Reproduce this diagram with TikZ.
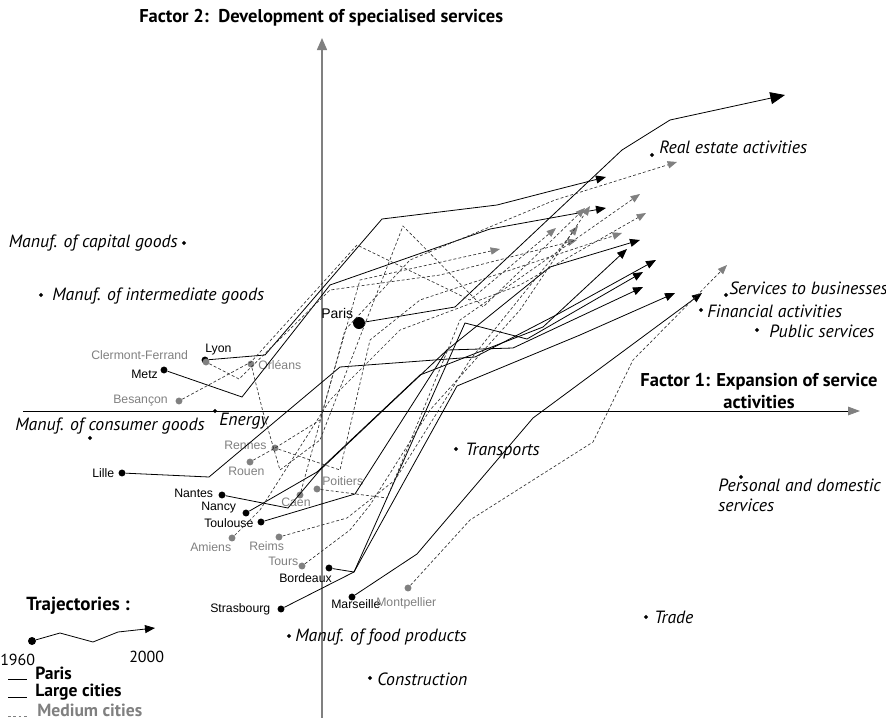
\documentclass[tikz,border=0pt]{standalone}
\usepackage{fontspec}
\setmainfont{PT Sans}
\newfontfamily\ciudadfont{Liberation Sans}
\usetikzlibrary{arrows.meta, shapes.geometric}

\begin{document}
\begin{tikzpicture}[x=0.75pt, y=-0.75pt,
    ciudad/.style={circle, fill=black, inner sep=0pt, minimum size=5.2pt},
    media/.style={circle, fill=gray, inner sep=0pt, minimum size=5.2pt},
    sector/.style={diamond, fill=black, inner sep=0pt, minimum size=3.4pt},
    etiq/.style={font=\ciudadfont\fontsize{9.2}{10}\selectfont, inner sep=0pt, anchor=west},
    etiqm/.style={etiq, text=gray},
    secttext/.style={font=\itshape\fontsize{13.3}{15}\selectfont, inner sep=0pt, anchor=west},
    titulo/.style={font=\bfseries\fontsize{13.9}{15.8}\selectfont, inner sep=0pt},
    leyenda/.style={font=\bfseries\fontsize{13.2}{14}\selectfont, inner sep=0pt, anchor=west},
    grande/.style={draw=black, line width=0.6pt, -{Triangle[length=7.5pt,width=6pt]}},
    mediana/.style={draw=black!80, line width=0.5pt, dash pattern=on 2.2pt off 1.6pt,
      -{Triangle[length=7pt,width=5.5pt,color=gray]}}]
  \useasboundingbox (0,0) rectangle (886,718);

  % Ejes
  \coordinate (y0) at (322,718);
  \coordinate (y1) at (322,38);
  \coordinate (x0) at (23,411);
  \coordinate (x1) at (860,411);
  \draw[gray, line width=1.1pt, -{Triangle[length=9pt,width=7.5pt]}] (y0) -- (y1);
  \draw[line width=0.6pt, -{Triangle[length=9pt,width=6.5pt,color=gray]}] (x0) -- (x1);
  \node[titulo, anchor=west] (f2) at (139,18) {Factor 2:\ \ Development of specialised services};
  \node[titulo, align=center] (f1) at (759,391) {Factor 1: Expansion of service\\activities};

  % Sectores
  \node[sector] (capital) at (184,243) {};
  \node[secttext, anchor=east] (tcapital) at (178,243) {Manuf. of capital goods};
  \node[sector] (interm) at (41,295) {};
  \node[secttext] (tinterm) at (52,296) {Manuf. of intermediate goods};
  \node[sector] (consumo) at (90,438) {};
  \node[secttext] (tconsumo) at (15,426) {Manuf. of consumer goods};
  \node[sector] (energia) at (215,411) {};
  \node[secttext] (tenergia) at (219,421) {Energy};
  \node[sector] (inmob) at (652,155) {};
  \node[secttext] (tinmob) at (659,147) {Real estate activities};
  \node[sector] (servemp) at (726,295) {};
  \node[secttext] (tservemp) at (729,288) {Services to businesses};
  \node[sector] (finan) at (701,310) {};
  \node[secttext] (tfinan) at (707,311) {Financial activities};
  \node[sector] (publico) at (757,330) {};
  \node[secttext] (tpublico) at (769,331) {Public services};
  \node[sector] (personal) at (741,477) {};
  \node[secttext, align=left, anchor=north west] (tpersonal) at (718,479) {Personal and domestic\\services};
  \node[sector] (transp) at (456,449) {};
  \node[secttext] (ttransp) at (465,451) {Transports};
  \node[sector] (comercio) at (646,617) {};
  \node[secttext] (tcomercio) at (654,617) {Trade};
  \node[sector] (alim) at (289,636) {};
  \node[secttext] (talim) at (295,637) {Manuf. of food products};
  \node[sector] (constr) at (370,678) {};
  \node[secttext] (tconstr) at (377,679) {Construction};

  % Ciudades grandes
  \node[ciudad, minimum size=9pt] (paris) at (359,323) {};
  \node[ciudad] (lyon) at (205,360) {};
  \node[ciudad] (metz) at (164,370) {};
  \node[ciudad] (lille) at (122,473) {};
  \node[ciudad] (nantes) at (222,495) {};
  \node[ciudad] (nancy) at (246,513) {};
  \node[ciudad] (toulouse) at (261,522) {};
  \node[ciudad] (bordeaux) at (329,568) {};
  \node[ciudad] (strasbourg) at (281,609) {};
  \node[ciudad] (marseille) at (352,597) {};

  % Ciudades medias
  \node[media] (clermont) at (206,362) {};
  \node[media] (besancon) at (179,401) {};
  \node[media] (orleans) at (251,364) {};
  \node[media] (rennes) at (275,448) {};
  \node[media] (rouen) at (250,462) {};
  \node[media] (caen) at (300,495) {};
  \node[media] (poitiers) at (317,489) {};
  \node[media] (amiens) at (232,538) {};
  \node[media] (reims) at (279,537) {};
  \node[media] (tours) at (302,566) {};
  \node[media] (montpellier) at (408,588) {};

  % Nombres
  \node[etiq, font=\ciudadfont\fontsize{10.5}{12}\selectfont] (tparis) at (321,313) {Paris};
  \node[etiq] (tlyon) at (205,350) {Lyon};
  \node[etiqm] (tclermont) at (91,355) {Clermont-Ferrand};
  \node[etiq] (tmetz) at (131,374) {Metz};
  \node[etiqm] (torleans) at (258,365) {Orléans};
  \node[etiqm] (tbesancon) at (113,401) {Besançon};
  \node[etiqm] (trennes) at (224,445) {Rennes};
  \node[etiqm] (trouen) at (228,471) {Rouen};
  \node[etiq] (tlille) at (92,473) {Lille};
  \node[etiq] (tnantes) at (174,493) {Nantes};
  \node[etiq] (tnancy) at (201,508) {Nancy};
  \node[etiq] (ttoulouse) at (204,523) {Toulouse};
  \node[etiqm] (tcaen) at (281,502) {Caen};
  \node[etiqm] (tpoitiers) at (322,481) {Poitiers};
  \node[etiqm] (tamiens) at (190,547) {Amiens};
  \node[etiqm] (treims) at (249,546) {Reims};
  \node[etiqm] (ttours) at (268,561) {Tours};
  \node[etiq] (tbordeaux) at (279,578) {Bordeaux};
  \node[etiq] (tstrasbourg) at (210,609) {Strasbourg};
  \node[etiq] (tmarseille) at (331,604) {Marseille};
  \node[etiqm] (tmontpellier) at (376,603) {Montpellier};

  % Trayectorias de las ciudades grandes
  \draw[grande, -{Triangle[length=11pt,width=9pt]}] (paris) -- (455,307) -- (622,150) -- (670,120) -- (785,95);
  \draw[grande] (lyon) -- (265,355) -- (382,219) -- (497,205) -- (555,190) -- (606,177);
  \draw[grande] (metz) -- (242,397) -- (330,285) -- (490,229) -- (606,208);
  \draw[grande] (lille) -- (209,477) -- (340,367) -- (475,357) -- (560,313) -- (656,260);
  \draw[grande] (nantes) -- (288,508) -- (320,470) -- (447,350) -- (550,267) -- (640,240);
  \draw[grande] (nancy) -- (317,472) -- (420,375) -- (543,327) -- (627,249);
  \draw[grande] (toulouse) -- (355,494) -- (447,350) -- (513,348) -- (643,287);
  \draw[grande] (bordeaux) -- (354,572) -- (465,323) -- (527,339) -- (643,272);
  \draw[grande] (strasbourg) -- (354,572) -- (457,386) -- (580,335) -- (675,293);
  \draw[grande] (marseille) -- (417,554) -- (533,418) -- (702,293);

  % Trayectorias de las ciudades medias
  \draw[mediana] (clermont) -- (239,379) -- (330,290) -- (440,275) -- (577,240);
  \draw[mediana] (besancon) -- (251,362) -- (357,245) -- (470,300) -- (556,228);
  \draw[mediana] (orleans) -- (263,412) -- (280,470) -- (320,440) -- (403,226) -- (483,307) -- (585,208);
  \draw[mediana] (rennes) -- (340,470) -- (370,340) -- (420,300) -- (622,233);
  \draw[mediana] (rouen) -- (275,448) -- (320,420) -- (360,280) -- (500,249);
  \draw[mediana] (caen) -- (345,330) -- (410,260) -- (555,200) -- (677,162);
  \draw[mediana] (poitiers) -- (387,498) -- (460,320) -- (640,194);
  \draw[mediana] (amiens) -- (260,510) -- (330,400) -- (400,330) -- (520,285) -- (646,213);
  \draw[mediana] (reims) -- (347,518) -- (395,480) -- (470,360) -- (578,226);
  \draw[mediana] (tours) -- (350,530) -- (370,505) -- (430,410) -- (520,310) -- (590,206);
  \draw[mediana] (montpellier) -- (470,520) -- (593,442) -- (633,360) -- (727,265);

  % Leyenda
  \node[leyenda, font=\bfseries\fontsize{14.2}{16}\selectfont] (tray) at (26,606) {Trajectories :};
  \node[ciudad, minimum size=6pt] (ley0) at (32,641) {};
  \coordinate (ley1) at (155,628);
  \draw[grande] (ley0) -- (60,633) -- (93,642) -- (118,632) -- (ley1);
  \node[font=\fontsize{12}{14}\selectfont, inner sep=0pt, anchor=west] (ano0) at (0,660) {1960};
  \node[font=\fontsize{12}{14}\selectfont, inner sep=0pt, anchor=west] (ano1) at (129,657) {2000};
  \coordinate (lp0) at (8,679);
  \coordinate (lp1) at (27,679);
  \draw[line width=0.6pt] (lp0) -- (lp1);
  \node[leyenda] (lparis) at (35,673) {Paris};
  \coordinate (lg0) at (8,697);
  \coordinate (lg1) at (27,697);
  \draw[line width=0.7pt] (lg0) -- (lg1);
  \node[leyenda] (lgrandes) at (35,692) {Large cities};
  \coordinate (lm0) at (8,716);
  \coordinate (lm1) at (27,716);
  \draw[gray, line width=0.7pt, dash pattern=on 2pt off 2pt] (lm0) -- (lm1);
  \node[leyenda, text=gray] (lmedias) at (37,710) {Medium cities};
\end{tikzpicture}
\end{document}
